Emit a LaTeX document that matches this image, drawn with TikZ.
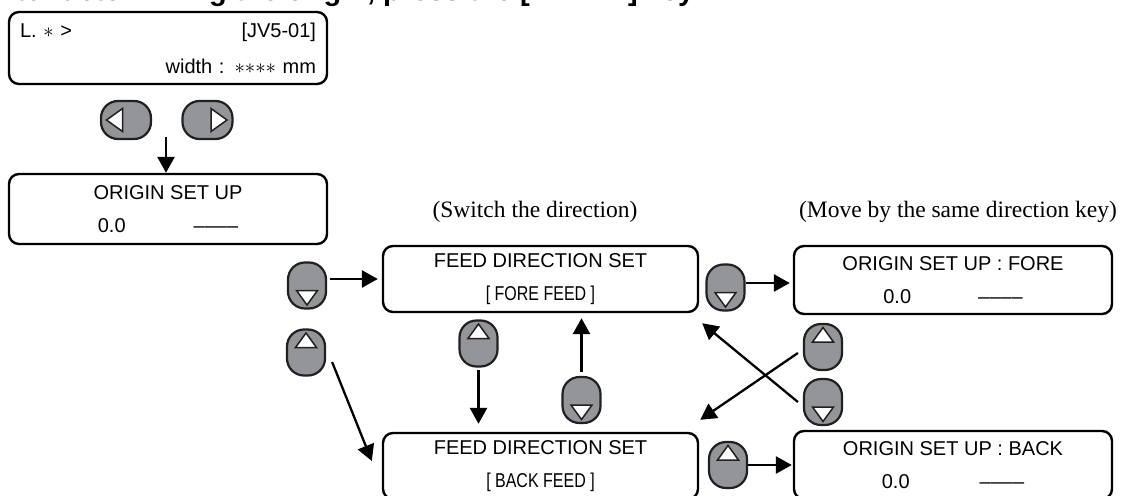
\documentclass[tikz,border=0pt]{standalone}
\usepackage{fontspec}
\setmainfont{Liberation Sans}
\newfontfamily\capfont{Liberation Serif}
\usepackage{graphicx}
\usepackage{tikz}
\usetikzlibrary{arrows.meta, positioning, calc}
\definecolor{keyGray}{RGB}{147,149,152}
\definecolor{keyEdge}{RGB}{35,31,32}
\tikzstyle{panel} = [rectangle, rounded corners=10pt, draw=black, line width=2.4pt, minimum width=318pt, minimum height=68pt, inner sep=0pt, align=center, font=\fontsize{20}{33}\selectfont]
\tikzstyle{caption} = [font=\capfont\fontsize{23.5}{23.5}\selectfont]
\tikzstyle{key} = [rectangle, rounded corners=17pt, draw=keyEdge, fill=keyGray, line width=2.2pt, inner sep=0pt]
\tikzstyle{keyv} = [key, minimum width=38pt, minimum height=46pt]
\tikzstyle{keyh} = [key, minimum width=50pt, minimum height=38pt]
\tikzstyle{glyph} = [draw=keyEdge, fill=white, line width=1.5pt, sharp corners, line join=miter]
\tikzstyle{keydown} = [keyv, path picture={\draw[glyph] ([xshift=-10.5pt,yshift=18pt]path picture bounding box.south) -- ([xshift=10.5pt,yshift=18pt]path picture bounding box.south) -- ([yshift=3.5pt]path picture bounding box.south) -- cycle;}]
\tikzstyle{keyup} = [keyv, path picture={\draw[glyph] ([xshift=-10.5pt,yshift=-18pt]path picture bounding box.north) -- ([xshift=10.5pt,yshift=-18pt]path picture bounding box.north) -- ([yshift=-3.5pt]path picture bounding box.north) -- cycle;}]
\tikzstyle{keyleft} = [keyh, path picture={\draw[glyph] ([xshift=21.5pt,yshift=11.5pt]path picture bounding box.west) -- ([xshift=21.5pt,yshift=-11.5pt]path picture bounding box.west) -- ([xshift=5.5pt]path picture bounding box.west) -- cycle;}]
\tikzstyle{keyright} = [keyh, path picture={\draw[glyph] ([xshift=-21.5pt,yshift=11.5pt]path picture bounding box.east) -- ([xshift=-21.5pt,yshift=-11.5pt]path picture bounding box.east) -- ([xshift=-5.5pt]path picture bounding box.east) -- cycle;}]
\tikzstyle{arrow} = [line width=2.7pt, ->, >={Triangle[length=16pt,width=17pt]}]

\begin{document}
\begin{tikzpicture}[x=1pt, y=-1pt]
    \path[use as bounding box] (0,0) rectangle (1121,495);
    \clip (0,0) rectangle (1121,495);

    % Heading (cut at the top edge)
    \node[anchor=base west, inner sep=0pt, font=\bfseries\fontsize{29}{29}\selectfont] (title) at (-15,1) {After determining the origin, press the [ENTER] key};

    % Panels
    \node[panel, align=right, text width=296pt, minimum height=72pt, font=\fontsize{20}{36}\selectfont] (status) at (168,48) {L. $\ast$ >\hfill[JV5-01]\\width : ${\ast}{\ast}{\ast}{\ast}$ mm};
    \node[panel, minimum height=70pt] (origin) at (168,209) {ORIGIN SET UP\\0.0\hspace{68pt}––––};
    \node[panel, minimum width=315pt, minimum height=66pt] (fore) at (540.5,279) {FEED DIRECTION SET\\\scalebox{0.8}[1]{[ FORE FEED ]}};
    \node[panel, minimum width=315pt, minimum height=66pt] (back) at (540.5,466) {FEED DIRECTION SET\\\scalebox{0.8}[1]{[ BACK FEED ]}};
    \node[panel] (oform) at (953,280) {ORIGIN SET UP : FORE\\0.0\hspace{67pt}––––};
    \node[panel] (oback) at (953,465) {ORIGIN SET UP : BACK\\0.0\hspace{70pt}––––};

    % Captions
    \node[caption] (capswitch) at (535,212) {(Switch the direction)};
    \node[caption] (capmove) at (958,212) {(Move by the same direction key)};

    % Keys
    \node[keyleft] (keyl) at (126,120) {};
    \node[keyright] (keyr) at (207.5,120) {};
    \node[keydown] (keyA) at (307,285.5) {};
    \node[keyup] (keyB) at (306,352.5) {};
    \node[keyup] (keyC) at (478.5,343.5) {};
    \node[keydown] (keyD) at (581.5,400) {};
    \node[keydown] (keyE) at (725.5,287.5) {};
    \node[keyup] (keyF) at (823,347) {};
    \node[keydown] (keyG) at (823,402) {};
    \node[keyup] (keyH) at (728,465) {};

    % Arrows
    \coordinate (kdn) at (166,137);
    \coordinate (eOut) at ([yshift=4.5pt]keyE.east);
    \draw[arrow] (kdn) -- (kdn |- origin.north);
    \draw[arrow, shorten <=3pt, shorten >=4pt] (keyA.east |- fore.west) -- (fore.west);
    \draw[arrow, line width=2.3pt] ([xshift=6pt,yshift=-9.5pt]keyB.east) -- ([xshift=-10pt,yshift=5pt]back.west);
    \draw[arrow, shorten <=2pt, shorten >=8pt] (keyC.south) -- (keyC.south |- back.north);
    \draw[arrow, shorten <=4pt, shorten >=5pt] (keyD.north) -- (keyD.north |- fore.south);
    \draw[arrow, shorten >=3pt] (eOut) -- (eOut -| oform.west);
    \draw[arrow, line width=2.3pt] ([xshift=-5pt,yshift=-6pt]keyF.west) -- ([xshift=1pt,yshift=12pt]back.north east);
    \draw[arrow, line width=2.3pt] ([xshift=-5pt]keyG.west) -- ([xshift=3pt,yshift=-10pt]fore.south east);
    \draw[arrow, shorten >=1pt] (keyH.east) -- (keyH.east -| oback.west);
\end{tikzpicture}
\end{document}
